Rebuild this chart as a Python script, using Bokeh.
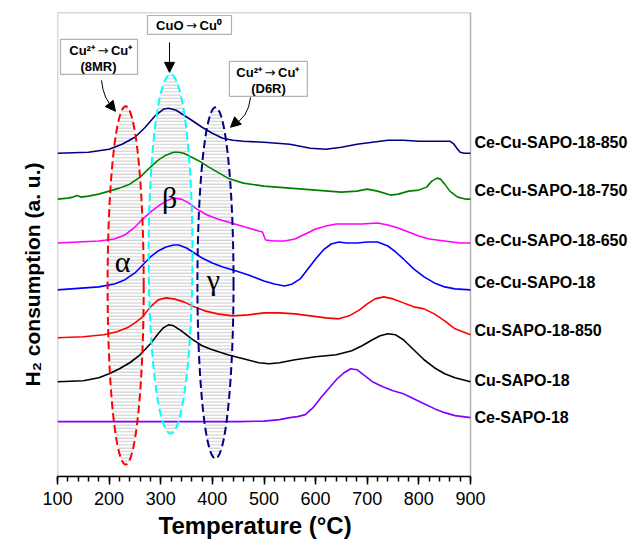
import math
from bokeh.plotting import figure
from bokeh.models import Label, BoxAnnotation, Arrow, NormalHead, FixedTicker, Title
from bokeh.embed import file_html
from bokeh.resources import INLINE

# ---------------- data (temperature in °C, signal in arbitrary units, offset stacked) -------------
t_ce_sapo = [100, 300, 450, 500, 530, 550, 565, 580, 595, 610, 625, 640, 655, 668, 680, 695, 710, 730, 750, 770, 790, 810, 830, 850, 870, 900]
y_ce_sapo = [55, 55, 55, 55.5, 57, 59, 60, 62, 69, 79, 88, 97, 104, 108, 107, 101, 95, 90, 86, 83, 78, 73, 68, 64, 61, 59]

t_cu_sapo = [100, 150, 180, 200, 220, 240, 260, 280, 295, 305, 315, 325, 340, 360, 380, 400, 430, 460, 490, 510, 530, 560, 600, 640, 670, 690, 710, 725, 740, 755, 770, 790, 810, 830, 850, 870, 900]
y_cu_sapo = [95, 96, 99, 103, 108, 114, 122, 133, 143, 149, 152, 151, 146, 138, 131, 127, 122, 118, 114, 113, 114, 117, 120, 122, 126, 131, 137, 141, 143, 142, 137, 127, 117, 109, 103, 99, 95]

t_cu_850 = [100, 150, 190, 215, 235, 250, 265, 280, 295, 310, 325, 345, 365, 385, 410, 440, 470, 500, 530, 560, 590, 620, 645, 665, 685, 700, 715, 732, 750, 770, 790, 810, 830, 850, 870, 900]
y_cu_850 = [139, 140, 142, 145, 149, 154, 160, 170, 177, 179, 178, 175, 170, 166, 163, 161, 162, 164, 164, 163, 161, 159, 158, 161, 167, 173, 178, 180, 178, 174, 170, 168, 163, 156, 148, 142]

t_cecu = [100, 180, 210, 230, 250, 265, 280, 295, 310, 325, 335, 350, 365, 380, 400, 420, 440, 470, 500, 520, 540, 555, 570, 585, 600, 615, 630, 645, 660, 680, 700, 720, 740, 755, 770, 790, 810, 830, 850, 870, 900]
y_cecu = [187, 190, 193, 197, 204, 212, 220, 226, 230, 232, 232, 229, 224, 219, 214, 210, 207, 202, 196, 193, 191, 193, 198, 208, 218, 227, 233, 235, 234, 234, 235, 235, 231, 225, 218, 208, 200, 194, 190, 188, 187]

t_cecu_650 = [100, 180, 210, 230, 250, 265, 280, 295, 310, 325, 340, 355, 370, 390, 410, 430, 450, 470, 490, 497, 503, 520, 540, 560, 580, 600, 620, 640, 660, 690, 720, 740, 760, 780, 800, 820, 850, 880, 900]
y_cecu_650 = [234, 236, 238, 242, 250, 258, 265, 271, 276, 279, 278, 274, 268, 262, 258, 255, 252, 249, 246, 245, 237, 236, 236, 238, 243, 248, 251, 253, 253, 253, 254, 252, 249, 245, 241, 238, 236, 234, 234]

t_cecu_750 = [100, 120, 130, 138, 145, 160, 180, 200, 220, 240, 260, 280, 295, 310, 325, 335, 345, 360, 375, 390, 410, 430, 460, 500, 550, 600, 650, 680, 700, 720, 745, 760, 780, 800, 815, 825, 835, 842, 850, 860, 875, 890, 900]
y_cecu_750 = [278, 279, 280, 281.5, 280, 281, 283, 286, 289, 293, 300, 310, 317, 322, 325, 325, 324, 320, 316, 311, 305, 299, 294, 291, 289, 287, 285, 286, 288, 286, 282, 283, 286, 287, 290, 296, 299, 298, 293, 286, 280, 278, 278]

t_cecu_850 = [100, 160, 200, 225, 250, 270, 290, 305, 315, 330, 345, 360, 380, 400, 420, 440, 460, 500, 550, 590, 620, 650, 680, 710, 740, 770, 800, 830, 860, 868, 875, 880, 888, 900]
y_cecu_850 = [324, 325, 328, 333, 340, 350, 362, 368, 369, 367, 362, 357, 350, 344, 339, 337, 336, 335, 333, 329, 328, 330, 333, 335, 337, 337, 336, 336, 336, 333, 328, 325, 324, 324]

series_names = ["Ce-SAPO-18", "Cu-SAPO-18", "Cu-SAPO-18-850", "Ce-Cu-SAPO-18",
                "Ce-Cu-SAPO-18-650", "Ce-Cu-SAPO-18-750", "Ce-Cu-SAPO-18-850"]
series_colors = ["#8000FF", "#000000", "#FF0000", "#0000FF", "#FF00FF", "#008000", "#000080"]
series_t = [t_ce_sapo, t_cu_sapo, t_cu_850, t_cecu, t_cecu_650, t_cecu_750, t_cecu_850]
series_y = [y_ce_sapo, y_cu_sapo, y_cu_850, y_cecu, y_cecu_650, y_cecu_750, y_cecu_850]
label_y = [59, 96, 146, 194, 237, 287, 335]

x_ticks = [100, 200, 300, 400, 500, 600, 700, 800, 900]

# reduction regions (alpha, beta, gamma): centre temperature, centre level, width, height
region_names = ["α", "β", "γ"]
region_t = [232, 319, 406]
region_y = [191.5, 223, 194]
region_w = [70, 85, 70]
region_h = [359, 360, 352]
region_colors = ["#FF0000", "#00FFFF", "#000080"]

# ---------------- figure -------------
T_MIN, T_MAX = 100, 900
PX_PER_DEG = 413 / 800.0
x_end = T_MIN + 573 / PX_PER_DEG   # frame extends under the right-hand series labels

p = figure(width=630, height=541, x_range=(T_MIN, x_end), y_range=(0, 465),
           output_backend="svg", toolbar_location=None,
           min_border_left=57, min_border_right=0, min_border_top=12, min_border_bottom=64)
p.xgrid.visible = False
p.ygrid.visible = False
p.yaxis.visible = False
p.outline_line_alpha = 0
p.background_fill_color = "white"
p.border_fill_color = "white"

ax = p.xaxis[0]
ax.bounds = (T_MIN, T_MAX)
ax.ticker = FixedTicker(ticks=x_ticks, minor_ticks=list(range(T_MIN, T_MAX + 1, 20)))
ax.axis_line_width = 1.5
ax.major_tick_line_width = 1.5
ax.minor_tick_line_width = 1.5
ax.major_tick_out = 8
ax.major_tick_in = 0
ax.minor_tick_out = 5
ax.minor_tick_in = 0
ax.major_label_text_font = "Liberation Sans"
ax.major_label_text_font_size = "18px"
ax.major_label_text_color = "black"
ax.major_label_standoff = 7

# plot frame (data region)
p.add_layout(BoxAnnotation(left=T_MIN, right=T_MAX, bottom=0, top=465, fill_alpha=0,
                           line_color="black", line_width=1.5, level="underlay"))

# axis titles
p.add_layout(Title(text="Temperature (°C)", align="left", offset=101, text_font="Liberation Sans",
                   text_font_style="bold", text_font_size="24px", text_color="black", standoff=5), "below")
p.add_layout(Title(text="H₂ consumption (a. u.)", align="left", offset=90, text_font="Liberation Sans",
                   text_font_style="bold", text_font_size="21px", text_color="black", standoff=27), "left")

# hatched regions (under curves)
for i in range(3):
    p.ellipse(x=region_t[i], y=region_y[i], width=region_w[i], height=region_h[i],
              fill_alpha=0, line_alpha=0, hatch_pattern="horizontal_line",
              hatch_color="#C8C8C8", hatch_scale=3.3, hatch_weight=1.0)

# curves
for t, y, c in zip(series_t, series_y, series_colors):
    p.line(t, y, line_color=c, line_width=1.6)

# dashed outlines
for i in range(3):
    p.ellipse(x=region_t[i], y=region_y[i], width=region_w[i], height=region_h[i],
              fill_alpha=0, line_color=region_colors[i], line_width=2, line_dash="8 4")

# greek letters
greek_pos = [(226, 215), (317, 280), (402, 197)]
for g, (gx, gy) in zip(region_names, greek_pos):
    p.add_layout(Label(x=gx, y=gy, text=g, text_font="Liberation Serif", text_font_size="30px",
                       text_align="center", text_baseline="middle", text_color="black"))

# series labels on the right
for name, ly in zip(series_names, label_y):
    p.add_layout(Label(x=907.7, y=ly, text=name, text_font="Liberation Sans", text_font_style="bold",
                       text_font_size="16px", text_align="left", text_baseline="middle", text_color="black"))

# annotation boxes
boxes = [(105.8, 255, 438, 403), (274.3, 437, 462, 443), (433, 584, 416, 381)]
for l, r, tp, b in boxes:
    p.add_layout(BoxAnnotation(left=l, right=r, top=tp, bottom=b, fill_color="white", fill_alpha=1,
                               line_color="black", line_width=1.2, level="annotation"))

# reaction texts: (left part, right part, arrow centre T, level)
reactions = [("Cu²⁺", "Cu⁺", 188, 427), ("CuO", "Cu⁰", 359.6, 452), ("Cu²⁺", "Cu⁺", 511.6, 405)]
for left_txt, right_txt, ax_t, ly in reactions:
    common = dict(text_font="Liberation Sans", text_font_style="bold", text_font_size="13px",
                  text_baseline="middle", text_color="black", level="overlay")
    p.add_layout(Label(x=ax_t, y=ly, text=left_txt, text_align="right", x_offset=-8, **common))
    p.add_layout(Label(x=ax_t, y=ly, text=right_txt, text_align="left", x_offset=8, **common))
    p.add_layout(Label(x=ax_t, y=ly, text="→", text_align="center", text_font="DejaVu Sans",
                       text_font_size="13px", text_baseline="middle", text_color="black", level="overlay"))

sites = [("(8MR)", 179.4, 411), ("(D6R)", 508.7, 389)]
for txt, bx, by in sites:
    p.add_layout(Label(x=bx, y=by, text=txt, text_font="Liberation Sans", text_font_style="bold",
                       text_font_size="13px", text_align="center", text_baseline="middle",
                       text_color="black", level="overlay"))

# arrows
p.quadratic(x0=[185.2], y0=[397], x1=[210], y1=[369], cx=[189.1], cy=[377], line_color="black", line_width=1)
p.add_layout(Arrow(end=NormalHead(size=10, fill_color="black", line_color="black"),
                   x_start=200, y_start=374, x_end=212.3, y_end=366, line_alpha=0))
p.add_layout(Arrow(end=NormalHead(size=10, fill_color="black", line_color="black"),
                   x_start=317, y_start=435, x_end=317, y_end=405, line_color="black", line_width=1))
p.quadratic(x0=[473.9], y0=[380], x1=[438], y1=[352], cx=[470], cy=[359], line_color="black", line_width=1)
p.add_layout(Arrow(end=NormalHead(size=10, fill_color="black", line_color="black"),
                   x_start=448, y_start=356, x_end=435.1, y_end=350, line_alpha=0))

open("out.html", "w").write(file_html(p, INLINE))
